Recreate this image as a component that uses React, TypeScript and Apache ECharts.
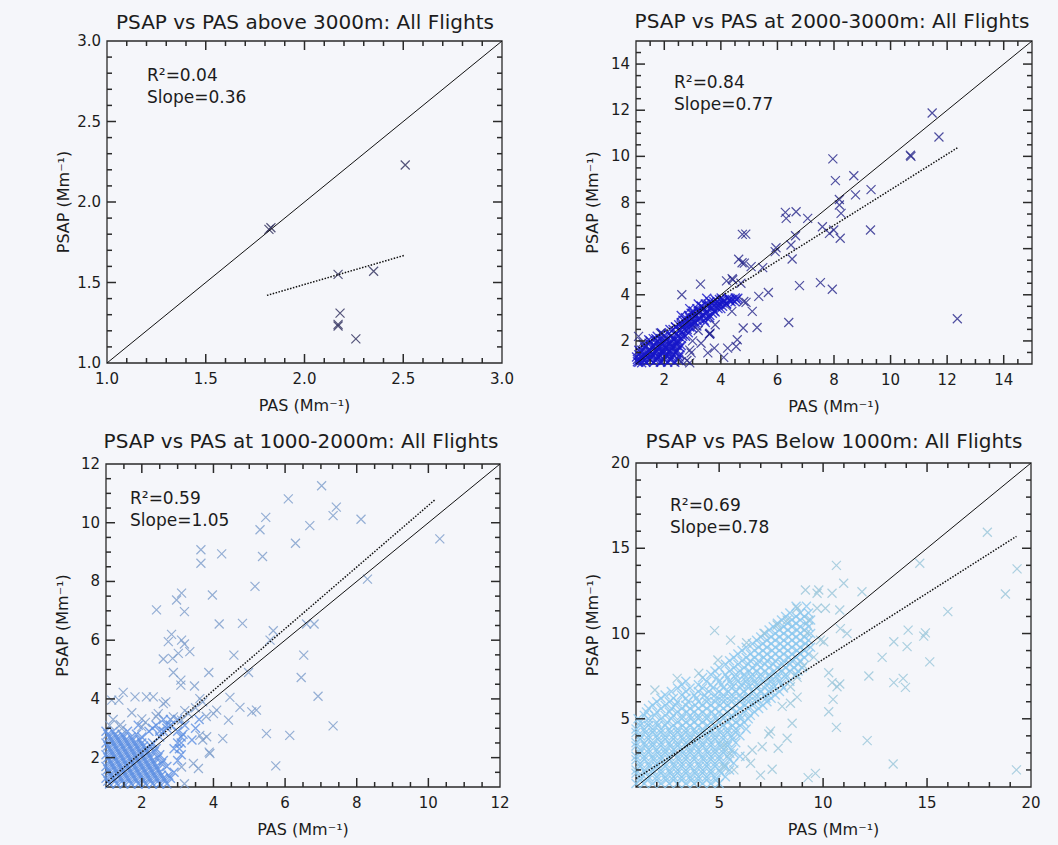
import React, { useEffect, useRef } from "react";
import * as echarts from "echarts";

type Pt = [number, number];
type Row = [number, number[]]; // [PSAP value, PAS values read along that row]

const FONT = "'DejaVu Sans', 'Liberation Sans', sans-serif";
const TEXT_COLOR = "#1c1c1c";
const AXIS_COLOR = "#2a2a2a";
const BG = "#f5f6fa";

const X_NAME = "PAS (Mm⁻¹)";
const Y_NAME = "PSAP (Mm⁻¹)";

const titles = [
  "PSAP vs PAS above 3000m: All Flights",
  "PSAP vs PAS at 2000-3000m: All Flights",
  "PSAP vs PAS at 1000-2000m: All Flights",
  "PSAP vs PAS Below 1000m: All Flights",
];
const stats = [
  ["R²=0.04", "Slope=0.36"],
  ["R²=0.84", "Slope=0.77"],
  ["R²=0.59", "Slope=1.05"],
  ["R²=0.69", "Slope=0.78"],
];

// axis ranges and tick labels
const p1Range: Pt = [1, 3];
const p2Range: Pt = [1, 15];
const p3Range: Pt = [1, 12];
const p4Range: Pt = [1, 20];
const p1Ticks = [1.0, 1.5, 2.0, 2.5, 3.0];
const p2Ticks = [2, 4, 6, 8, 10, 12, 14];
const p3Ticks = [2, 4, 6, 8, 10, 12];
const p4Ticks = [5, 10, 15, 20];
const minorSteps = [0.1, 0.5, 0.5, 1];

// fitted regression line end points (dotted)
const p1Fit: Pt[] = [[1.81, 1.42], [2.51, 1.67]];
const p2Fit: Pt[] = [[1.0, 1.62], [12.4, 10.4]];
const p3Fit: Pt[] = [[1.0, 1.14], [10.2, 10.8]];
const p4Fit: Pt[] = [[1.0, 1.5], [19.3, 15.7]];

// ---- scatter data (PAS, PSAP) ----
const p1Points: Pt[] = [
  [1.82, 1.83], [1.83, 1.84], [2.51, 2.23], [2.17, 1.55], [2.35, 1.57],
  [2.18, 1.31], [2.17, 1.24], [2.17, 1.23], [2.26, 1.15],
];

const p2Outliers: Pt[] = [
  [11.47, 11.88], [11.71, 10.84], [10.7, 10.05], [10.72, 10.0], [7.96, 9.89], [8.05, 8.95],
  [8.7, 9.16], [8.76, 8.33], [9.31, 8.56], [9.29, 6.81], [8.19, 8.13], [8.19, 7.89],
  [8.25, 7.53], [8.22, 6.45], [7.99, 6.81], [7.84, 6.66], [7.59, 6.95], [7.07, 7.31],
  [6.66, 7.6], [6.28, 7.57], [6.31, 7.31], [6.64, 6.56], [6.48, 6.16], [6.52, 5.55],
  [6.78, 4.4], [7.52, 4.53], [7.94, 4.24], [6.4, 2.8], [12.36, 2.96], [5.95, 6.04],
  [5.92, 5.87], [5.48, 5.18], [5.68, 4.1], [5.34, 3.93], [5.11, 3.28], [5.28, 2.58],
  [4.79, 2.56], [4.76, 6.62], [4.88, 6.63], [4.63, 5.54], [4.75, 5.39], [4.83, 5.37],
  [5.07, 5.22], [4.42, 4.65], [4.71, 4.5], [4.39, 3.28], [4.81, 3.71], [4.89, 3.67],
  [4.58, 2.05], [4.54, 1.76], [4.24, 1.69], [3.28, 4.46], [2.62, 4.0], [3.6, 2.3],
  [3.62, 2.34], [3.77, 1.69], [4.1, 1.29], [3.54, 1.48], [2.95, 1.48], [1.86, 2.34],
  [1.24, 1.94], [1.09, 2.2], [3.0, 2.0], [3.3, 1.9], [2.9, 1.6], [3.8, 2.7], [3.2, 2.45],
  [2.6, 1.1], [2.8, 1.15], [2.9, 1.05], [4.2, 4.6], [4.4, 4.7],
];
const p2Core: Pt[] = [
  [1.05, 1.1], [1.15, 1.2], [1.2, 1.35], [1.3, 1.15], [1.35, 1.5], [1.4, 1.3], [1.5, 1.2],
  [1.5, 1.6], [1.6, 1.4], [1.65, 1.75], [1.7, 1.15], [1.75, 1.55], [1.8, 1.3], [1.85, 1.9],
  [1.9, 1.6], [1.95, 1.45], [2.0, 1.8], [2.05, 2.0], [2.1, 1.65], [2.15, 1.4], [2.2, 1.9],
  [2.25, 1.75], [2.3, 2.1], [2.35, 1.55], [2.4, 1.95], [2.45, 1.8], [2.5, 2.2], [2.2, 1.2],
  [1.9, 1.1], [1.1, 1.6], [1.25, 1.85], [1.45, 2.05], [1.9, 2.35], [1.7, 2.1], [1.2, 1.05],
  [2.55, 2.45], [2.6, 2.7], [2.7, 2.5], [2.75, 2.9], [2.8, 2.6], [2.9, 3.0], [2.95, 2.75],
  [3.0, 3.2], [3.05, 2.85], [3.1, 3.05], [3.2, 3.3], [3.25, 2.95], [3.3, 3.5], [3.35, 3.1],
  [3.4, 3.4], [3.5, 3.2], [3.55, 3.6], [3.6, 3.0], [3.7, 3.45], [3.75, 3.7], [3.8, 3.25],
  [3.9, 3.55], [3.95, 3.8], [4.0, 3.4], [4.05, 3.65], [4.1, 3.75], [4.2, 3.6], [4.3, 3.75],
  [4.4, 3.8], [4.5, 3.7], [4.6, 3.85], [2.65, 2.2], [2.85, 2.35], [3.0, 2.55], [3.15, 2.65],
  [3.45, 2.8], [3.6, 2.3], [2.4, 2.6], [2.6, 3.1], [2.9, 3.4], [3.2, 3.6], [3.5, 3.85], [2.2, 2.5],
];
const p2CoreRows: Row[] = [
  [1.08, [1.1, 1.35, 1.62, 1.86, 2.12, 2.37]],
  [1.2, [1.05, 1.25, 1.5, 1.75, 2.0, 2.25, 2.5]],
  [1.3, [1.02, 1.26, 1.52, 1.77, 2.02, 2.27, 2.52]],
  [1.4, [1.1, 1.3, 1.55, 1.8, 2.05, 2.3, 2.55]],
  [1.5, [1.16, 1.41, 1.66, 1.92, 2.16, 2.42]],
  [1.6, [1.2, 1.45, 1.7, 1.95, 2.2, 2.45]],
  [1.7, [1.31, 1.56, 1.81, 2.06, 2.31, 2.56]],
  [1.8, [1.35, 1.6, 1.85, 2.1, 2.35, 2.6]],
  [1.9, [1.46, 1.71, 1.96, 2.21, 2.46]],
  [2.0, [1.5, 1.75, 2.0, 2.25, 2.5]],
  [2.1, [1.61, 1.86, 2.11, 2.36, 2.61]],
  [2.2, [1.75, 2.0, 2.25, 2.5, 2.75]],
  [2.3, [1.92, 2.16, 2.41, 2.66]],
  [2.5, [2.31, 2.56, 2.81]],
  [2.6, [2.4, 2.65, 2.9]],
  [2.7, [2.51, 2.76, 3.01]],
  [2.8, [2.6, 2.85, 3.1]],
  [2.9, [2.66, 2.91, 3.16, 3.41]],
  [3.0, [2.75, 3.0, 3.25, 3.5]],
  [3.1, [2.86, 3.11, 3.36, 3.61]],
  [3.2, [2.95, 3.2, 3.45, 3.7]],
  [3.3, [3.02, 3.26, 3.51, 3.76]],
  [3.4, [3.15, 3.4, 3.65, 3.9]],
  [3.5, [3.31, 3.56, 3.81, 4.06]],
  [3.6, [3.45, 3.7, 3.95, 4.2]],
  [3.7, [3.61, 3.86, 4.11, 4.36]],
  [3.8, [3.8, 4.05, 4.3, 4.55]],
  [3.86, [4.01, 4.26, 4.51]],
];

const p3Outliers: Pt[] = [
  [7.02, 11.26], [6.09, 10.81], [7.34, 10.24], [7.43, 10.53], [8.12, 10.12], [5.46, 10.18],
  [5.3, 9.76], [6.69, 9.9], [6.29, 9.3], [5.37, 8.85], [4.23, 8.94], [3.65, 9.08],
  [3.65, 8.62], [10.32, 9.45], [8.3, 8.08], [5.16, 7.83], [3.97, 7.54], [3.11, 7.6],
  [2.97, 7.37], [3.19, 6.97], [2.41, 7.03], [4.16, 6.55], [4.81, 6.57], [6.6, 6.55],
  [6.81, 6.55], [5.67, 6.32], [5.58, 6.0], [2.83, 6.2], [2.74, 5.95], [3.11, 6.0],
  [3.19, 5.87], [3.02, 5.55], [3.34, 5.61], [2.6, 5.36], [2.86, 5.38], [4.57, 5.49],
  [6.52, 5.49], [6.45, 4.73], [4.98, 4.9], [2.88, 4.9], [3.87, 4.9], [3.09, 4.64],
  [3.09, 4.47], [6.92, 4.09], [4.46, 4.05], [4.74, 3.71], [5.07, 3.56], [5.2, 3.62],
  [3.47, 4.44], [3.62, 4.01], [4.42, 3.28], [4.26, 2.65], [5.48, 2.82], [6.13, 2.76],
  [7.34, 3.08], [5.74, 1.72], [3.88, 2.19], [3.9, 2.14], [3.58, 1.63], [3.44, 1.8],
  [3.11, 1.68], [3.19, 1.11], [3.62, 2.76], [3.81, 2.71], [1.81, 4.07], [1.48, 4.22],
  [1.16, 3.96], [1.36, 3.96], [2.13, 4.07], [2.32, 4.07], [1.72, 3.53], [1.44, 2.99],
  [2.0, 3.05], [2.46, 3.5], [4.09, 3.62], [4.0, 3.5], [3.11, 3.28], [2.88, 3.39],
  [2.6, 3.84], [2.67, 3.9], [3.5, 3.7], [3.7, 3.9], [3.3, 3.5], [3.7, 2.6], [3.8, 3.4],
  [3.2, 3.6], [2.4, 3.4], [2.1, 3.2], [1.2, 3.3], [2.0, 3.32], [1.1, 3.1], [1.4, 3.12],
];
const p3CoreRows: Row[] = [
  [1.1, [1.1, 1.3, 1.5, 1.7, 1.9, 2.1, 2.3, 2.5, 2.7]],
  [1.2, [1.05, 1.25, 1.45, 1.65, 1.85, 2.05, 2.25, 2.45, 2.65]],
  [1.3, [1.0, 1.2, 1.4, 1.6, 1.8, 2.0, 2.2, 2.4, 2.6, 2.8]],
  [1.4, [1.15, 1.35, 1.55, 1.75, 1.95, 2.15, 2.35, 2.55, 2.75]],
  [1.5, [1.1, 1.3, 1.5, 1.7, 1.9, 2.1, 2.3, 2.5, 2.9]],
  [1.6, [1.05, 1.25, 1.45, 1.65, 1.85, 2.05, 2.25, 2.45]],
  [1.7, [1.0, 1.2, 1.4, 1.6, 1.8, 2.0, 2.2, 2.4, 2.7]],
  [1.8, [1.15, 1.35, 1.55, 1.75, 1.95, 2.15, 2.35, 2.55]],
  [1.9, [1.1, 1.3, 1.5, 1.7, 1.9, 2.1, 2.3, 2.6, 3.0]],
  [2.0, [1.05, 1.25, 1.45, 1.65, 1.85, 2.05, 2.25, 2.45]],
  [2.1, [1.0, 1.2, 1.4, 1.6, 1.8, 2.0, 2.2, 2.5, 3.1]],
  [2.2, [1.15, 1.35, 1.55, 1.75, 1.95, 2.15, 2.35]],
  [2.3, [1.1, 1.3, 1.5, 1.7, 1.9, 2.1, 2.4, 2.9, 3.05]],
  [2.4, [1.05, 1.25, 1.45, 1.65, 1.85, 2.05, 2.25]],
  [2.5, [1.0, 1.2, 1.4, 1.6, 1.8, 2.0, 2.3, 3.0, 3.1]],
  [2.6, [1.15, 1.35, 1.55, 1.75, 1.95, 3.4]],
  [2.7, [1.1, 1.3, 1.5, 1.7, 2.0, 2.5, 3.1]],
  [2.8, [1.05, 1.25, 1.45, 1.85, 3.15]],
  [2.9, [1.0, 1.2, 1.6, 2.2, 2.6, 3.0, 2.5]],
  [3.0, [2.3, 2.7, 3.5]],
  [3.1, [1.9, 2.4, 2.8, 3.2, 2.7]],
  [3.3, [2.6, 3.0, 3.6, 2.8]],
];

const p4Outliers: Pt[] = [
  [17.9, 15.94], [19.33, 13.79], [18.77, 12.32], [14.65, 14.12], [16.0, 11.28], [10.64, 14.0],
  [10.99, 12.95], [11.87, 12.45], [9.79, 12.55], [10.43, 12.36], [10.11, 11.48], [10.8, 11.38],
  [10.83, 10.29], [11.15, 10.0], [10.03, 9.52], [14.09, 10.2], [14.04, 9.23], [14.92, 10.04],
  [14.84, 9.85], [13.4, 9.52], [12.84, 8.6], [15.13, 8.34], [12.2, 7.51], [10.27, 7.7],
  [10.43, 7.12], [10.8, 7.04], [10.67, 6.88], [13.4, 7.12], [13.85, 7.37], [13.96, 6.84],
  [10.48, 6.14], [10.27, 5.41], [10.64, 4.5], [12.12, 3.72], [13.37, 2.35], [19.3, 2.0],
  [9.63, 1.8], [4.78, 10.17], [4.94, 8.45], [4.02, 7.67], [2.98, 7.37], [1.91, 6.69],
  [5.55, 9.61], [6.32, 9.46], [7.15, 10.01], [7.79, 10.5], [8.27, 10.79], [8.75, 11.48],
  [9.15, 12.55], [9.71, 12.36], [9.71, 11.48], [9.31, 10.79], [9.23, 10.04], [9.87, 9.61],
  [9.28, 1.55], [8.51, 4.74], [8.27, 3.86], [7.84, 3.27], [7.39, 4.11], [7.47, 4.28],
  [7.07, 3.36], [6.59, 3.17], [6.27, 2.78], [5.71, 2.0], [5.22, 2.19], [7.55, 2.04],
  [6.99, 1.7], [6.51, 2.39], [5.23, 3.46], [5.52, 2.96], [8.43, 6.88], [8.75, 7.43],
  [9.07, 8.11], [9.55, 8.62], [8.43, 5.91], [8.03, 5.73], [8.75, 6.27],
];
const p4CoreRows: Row[] = [
  [1.2, [1.0, 1.4, 1.8, 2.2, 2.6, 3.0, 3.4, 3.8, 4.2, 4.6, 5.0]],
  [1.4, [1.2, 1.55, 2.0, 2.45, 2.8, 3.2, 3.65, 4.0, 4.4, 4.85]],
  [1.6, [1.2, 1.6, 2.0, 2.4, 2.8, 3.2, 3.6, 4.0, 4.4, 4.8, 5.3]],
  [1.8, [1.0, 1.45, 1.8, 2.2, 2.65, 3.0, 3.4, 3.85, 4.2, 4.6, 5.1]],
  [2.0, [1.0, 1.4, 1.8, 2.2, 2.6, 3.0, 3.4, 3.8, 4.2, 4.6, 5.0, 5.5]],
  [2.2, [1.2, 1.65, 2.0, 2.4, 2.85, 3.2, 3.6, 4.05, 4.4, 4.8, 5.3]],
  [2.4, [1.2, 1.6, 2.0, 2.4, 2.8, 3.2, 3.6, 4.0, 4.4, 4.8, 5.2, 5.7]],
  [2.6, [1.0, 1.4, 1.85, 2.2, 2.6, 3.05, 3.4, 3.8, 4.25, 4.6, 5.0, 5.5]],
  [2.8, [1.0, 1.4, 1.8, 2.2, 2.6, 3.0, 3.4, 3.8, 4.2, 4.6, 5.0, 5.4, 6.0]],
  [3.0, [1.2, 1.6, 2.05, 2.4, 2.8, 3.25, 3.6, 4.0, 4.45, 4.8, 5.2, 5.7]],
  [3.2, [1.2, 1.6, 2.0, 2.4, 2.8, 3.2, 3.6, 4.0, 4.4, 4.8, 5.2, 5.6]],
  [3.4, [1.0, 1.45, 1.8, 2.2, 2.65, 3.0, 3.4, 3.85, 4.2, 4.6, 5.05, 5.4]],
  [3.6, [1.0, 1.4, 1.8, 2.2, 2.6, 3.0, 3.4, 3.8, 4.2, 4.6, 5.0, 5.4, 5.8]],
  [3.8, [1.2, 1.6, 2.05, 2.4, 2.8, 3.25, 3.6, 4.0, 4.45, 4.8, 5.2, 5.65]],
  [4.0, [1.2, 1.6, 2.0, 2.4, 2.8, 3.2, 3.6, 4.0, 4.4, 4.8, 5.2, 5.6, 6.0]],
  [4.2, [1.0, 1.45, 1.8, 2.2, 2.65, 3.0, 3.4, 3.85, 4.2, 4.6, 5.05, 5.4, 5.8]],
  [4.4, [1.0, 1.4, 1.8, 2.2, 2.6, 3.0, 3.4, 3.8, 4.2, 4.6, 5.0, 5.4, 5.8, 6.3]],
  [4.6, [1.2, 1.6, 2.05, 2.4, 2.8, 3.25, 3.6, 4.0, 4.45, 4.8, 5.2, 5.65, 6.0]],
  [4.8, [1.2, 1.6, 2.0, 2.5, 3.0, 3.4, 3.8, 4.2, 4.6, 5.0, 5.4, 5.8, 6.2]],
  [5.0, [1.1, 1.6, 2.2, 2.7, 3.2, 3.65, 4.0, 4.4, 4.85, 5.2, 5.6, 6.05, 6.4]],
  [5.2, [1.4, 1.9, 2.4, 2.8, 3.2, 3.6, 4.0, 4.4, 4.8, 5.2, 5.6, 6.0, 6.5]],
  [5.4, [1.5, 2.0, 2.6, 3.0, 3.45, 3.8, 4.2, 4.65, 5.0, 5.4, 5.85, 6.2, 6.7]],
  [5.6, [1.6, 2.2, 2.7, 3.2, 3.6, 4.0, 4.4, 4.8, 5.2, 5.6, 6.0, 6.4, 6.9]],
  [5.8, [1.8, 2.4, 2.9, 3.4, 3.85, 4.2, 4.6, 5.05, 5.4, 5.8, 6.25, 6.6, 7.1]],
  [6.0, [2.0, 2.6, 3.0, 3.5, 4.0, 4.4, 4.8, 5.2, 5.6, 6.0, 6.4, 6.8, 7.3]],
  [6.2, [2.2, 2.8, 3.4, 3.9, 4.4, 4.85, 5.2, 5.6, 6.05, 6.4, 6.8, 7.25, 7.5]],
  [6.4, [2.4, 3.2, 3.8, 4.3, 4.8, 5.2, 5.6, 6.0, 6.4, 6.8, 7.2, 7.7]],
  [6.6, [2.7, 3.4, 4.0, 4.5, 5.0, 5.45, 5.8, 6.2, 6.65, 7.0, 7.4, 7.9]],
  [6.8, [3.0, 3.6, 4.2, 4.7, 5.2, 5.6, 6.0, 6.4, 6.8, 7.2, 7.6, 8.1]],
  [7.0, [3.2, 4.0, 4.6, 5.1, 5.6, 6.05, 6.4, 6.8, 7.25, 7.6, 8.0]],
  [7.2, [3.4, 4.4, 5.0, 5.5, 5.9, 6.3, 6.7, 7.1, 7.5, 7.9, 8.4]],
  [7.4, [4.2, 4.9, 5.4, 5.8, 6.25, 6.6, 7.0, 7.45, 7.8, 8.2]],
  [7.6, [4.6, 5.3, 5.8, 6.2, 6.6, 7.0, 7.4, 7.8, 8.2, 8.7]],
  [7.8, [4.8, 5.5, 6.0, 6.45, 6.8, 7.2, 7.65, 8.0, 8.4, 8.8]],
  [8.0, [5.0, 5.7, 6.2, 6.6, 7.0, 7.4, 7.8, 8.2, 8.6, 9.0]],
  [8.2, [5.3, 5.9, 6.4, 6.85, 7.2, 7.6, 8.05, 8.4, 8.8]],
  [8.4, [5.5, 6.1, 6.5, 6.9, 7.3, 7.7, 8.1, 8.5, 8.9]],
  [8.6, [5.7, 6.3, 6.7, 7.15, 7.5, 7.9, 8.35, 8.7, 9.1]],
  [8.8, [5.9, 6.5, 6.9, 7.3, 7.7, 8.1, 8.5, 8.9, 9.3]],
  [9.0, [6.1, 6.7, 7.1, 7.55, 7.9, 8.3, 8.75, 9.1]],
  [9.2, [6.3, 6.9, 7.3, 7.7, 8.1, 8.5, 8.9, 9.4]],
  [9.4, [6.6, 7.1, 7.5, 7.95, 8.3, 8.7, 9.15]],
  [9.6, [6.8, 7.3, 7.7, 8.1, 8.5, 8.9, 9.3]],
  [9.8, [7.0, 7.5, 7.9, 8.35, 8.7, 9.1]],
  [10.0, [7.2, 7.7, 8.1, 8.5, 8.9, 9.4]],
  [10.2, [7.4, 7.9, 8.3, 8.75, 9.1]],
  [10.4, [7.6, 8.1, 8.5, 8.9, 9.3]],
  [10.6, [7.8, 8.3, 8.7, 9.2]],
  [10.8, [8.0, 8.5, 8.9, 9.4]],
  [11.0, [8.2, 8.7, 9.1]],
  [11.2, [8.4, 8.9, 9.3]],
  [11.6, [8.7, 9.2]],
];

const rowsToPoints = (rows: Row[]): Pt[] => rows.flatMap(([y, xs]) => xs.map((x) => [x, y] as Pt));

// layout (pixels)
const layout = [
  { grid: { left: 107, top: 41, width: 395, height: 322 }, title: [305, 22], stats: [147, 75] },
  { grid: { left: 636, top: 41, width: 396, height: 323 }, title: [832, 21], stats: [674, 82] },
  { grid: { left: 106, top: 464, width: 394, height: 323 }, title: [301, 441], stats: [130, 498] },
  { grid: { left: 636, top: 463, width: 395, height: 324 }, title: [834, 441], stats: [670, 505] },
];
const MAJOR_LEN = 9;
const MINOR_LEN = 5;
const TICK_W = 1.5;

const panels = [
  { range: p1Range, ticks: p1Ticks, fmt: (v: number) => v.toFixed(1), core: [] as Pt[], outliers: p1Points, coreColor: "#2c2c5a", color: "#2c2c5a", fit: p1Fit },
  { range: p2Range, ticks: p2Ticks, fmt: (v: number) => String(v), core: [...p2Core, ...rowsToPoints(p2CoreRows)], outliers: p2Outliers, coreColor: "#1616c8", color: "#25258a", fit: p2Fit },
  { range: p3Range, ticks: p3Ticks, fmt: (v: number) => String(v), core: rowsToPoints(p3CoreRows), outliers: p3Outliers, coreColor: "#5e90e2", color: "#7c9cca", fit: p3Fit },
  { range: p4Range, ticks: p4Ticks, fmt: (v: number) => String(v), core: rowsToPoints(p4CoreRows), outliers: p4Outliers, coreColor: "#8cc8ef", color: "#98c6da", fit: p4Fit },
];

const X_SYMBOL = "path://M0 0L10 10M10 0L0 10";

function minorValues(range: Pt, step: number, majors: number[]) {
  const out: number[] = [];
  const n = Math.round((range[1] - range[0]) / step);
  for (let i = 1; i < n; i++) {
    const v = +(range[0] + i * step).toFixed(4);
    if (!majors.some((m) => Math.abs(m - v) < 1e-6)) out.push(v);
  }
  return out;
}

function buildOption() {
  const xAxis: any[] = [];
  const yAxis: any[] = [];
  const series: any[] = [];
  const graphic: any[] = [];
  const grid = layout.map((l) => ({
    ...l.grid,
    show: true,
    borderColor: AXIS_COLOR,
    borderWidth: 1.3,
    backgroundColor: "transparent",
    outerBoundsMode: "none",
    containLabel: false,
  }));

  panels.forEach((p, i) => {
    const labelStyle = { fontSize: 15, fontFamily: FONT, color: TEXT_COLOR };
    const nameStyle = { fontSize: 16, fontFamily: FONT, color: TEXT_COLOR };
    const common = {
      type: "value",
      gridIndex: i,
      min: p.range[0],
      max: p.range[1],
      splitLine: { show: false },
      axisLine: { show: false, onZero: false },
      axisTick: { show: false },
      nameLocation: "middle",
      nameTextStyle: nameStyle,
    };
    xAxis.push({
      ...common,
      position: "bottom",
      name: X_NAME,
      nameGap: 34,
      axisLabel: { show: true, customValues: p.ticks, formatter: (v: number) => p.fmt(v), margin: 8, ...labelStyle },
    });
    yAxis.push({
      ...common,
      position: "left",
      name: Y_NAME,
      nameGap: 36,
      axisLabel: { show: true, customValues: p.ticks, formatter: (v: number) => p.fmt(v), margin: 6, ...labelStyle },
    });

    if (p.core.length) {
      series.push({
        type: "scatter",
        xAxisIndex: i,
        yAxisIndex: i,
        data: p.core,
        symbol: X_SYMBOL,
        symbolSize: 9,
        z: 2,
        silent: true,
        itemStyle: { color: "rgba(0,0,0,0)", borderColor: p.coreColor, borderWidth: 1.4 },
      });
    }
    series.push({
      type: "scatter",
      xAxisIndex: i,
      yAxisIndex: i,
      data: p.outliers,
      symbol: X_SYMBOL,
      symbolSize: 9,
      z: 2,
      silent: true,
      itemStyle: { color: "rgba(0,0,0,0)", borderColor: p.color, borderWidth: 1.2 },
    });
    series.push({
      type: "line",
      xAxisIndex: i,
      yAxisIndex: i,
      data: [[p.range[0], p.range[0]], [p.range[1], p.range[1]]],
      symbol: "none",
      z: 3,
      silent: true,
      lineStyle: { color: "#111", width: 1 },
    });
    series.push({
      type: "line",
      xAxisIndex: i,
      yAxisIndex: i,
      data: p.fit,
      symbol: "none",
      z: 3,
      silent: true,
      lineStyle: { color: "#111", width: 1.5, type: "dotted" },
    });

    // Tick marks, drawn as thin rect symbols anchored on the frame at each tick value
    // (inside the frame, on all four sides), so that the library's scale places them.
    const lo = p.range[0];
    const hi = p.range[1];
    const minors = minorValues(p.range, minorSteps[i], p.ticks);
    const all: [number, number][] = [
      ...p.ticks.map((v) => [v, MAJOR_LEN] as [number, number]),
      ...minors.map((v) => [v, MINOR_LEN] as [number, number]),
    ];
    const tickItems: any[] = [];
    all.forEach(([v, len]) => {
      if (v > lo && v < hi) {
        tickItems.push(
          { value: [v, lo], symbolSize: [TICK_W, len], symbolOffset: [0, -len / 2] },
          { value: [v, hi], symbolSize: [TICK_W, len], symbolOffset: [0, len / 2] },
          { value: [lo, v], symbolSize: [len, TICK_W], symbolOffset: [len / 2, 0] },
          { value: [hi, v], symbolSize: [len, TICK_W], symbolOffset: [-len / 2, 0] }
        );
      }
    });
    series.push({
      type: "scatter",
      xAxisIndex: i,
      yAxisIndex: i,
      data: tickItems,
      symbol: "rect",
      clip: false,
      z: 4,
      silent: true,
      itemStyle: { color: AXIS_COLOR, borderWidth: 0, opacity: 1 },
    });

    const l = layout[i];
    graphic.push({
      type: "text",
      x: l.title[0],
      y: l.title[1],
      silent: true,
      style: { text: titles[i], fill: TEXT_COLOR, fontSize: 20, fontFamily: FONT, align: "center", verticalAlign: "middle" },
    });
    stats[i].forEach((s, k) => {
      graphic.push({
        type: "text",
        x: l.stats[0],
        y: l.stats[1] + k * 22,
        silent: true,
        style: { text: s, fill: TEXT_COLOR, fontSize: 17, fontFamily: FONT, align: "left", verticalAlign: "middle" },
      });
    });
  });

  return {
    animation: false,
    backgroundColor: BG,
    grid,
    xAxis,
    yAxis,
    series,
    graphic,
    tooltip: { show: false },
  };
}

export default function App() {
  const ref = useRef<HTMLDivElement>(null);
  useEffect(() => {
    if (!ref.current) return;
    const chart = echarts.init(ref.current, undefined, { renderer: "svg" });
    chart.setOption(buildOption() as any);
    return () => chart.dispose();
  }, []);
  return (
    <div
      ref={ref}
      style={{ position: "absolute", left: 0, top: 0, width: 1058, height: 845, background: BG }}
    />
  );
}
